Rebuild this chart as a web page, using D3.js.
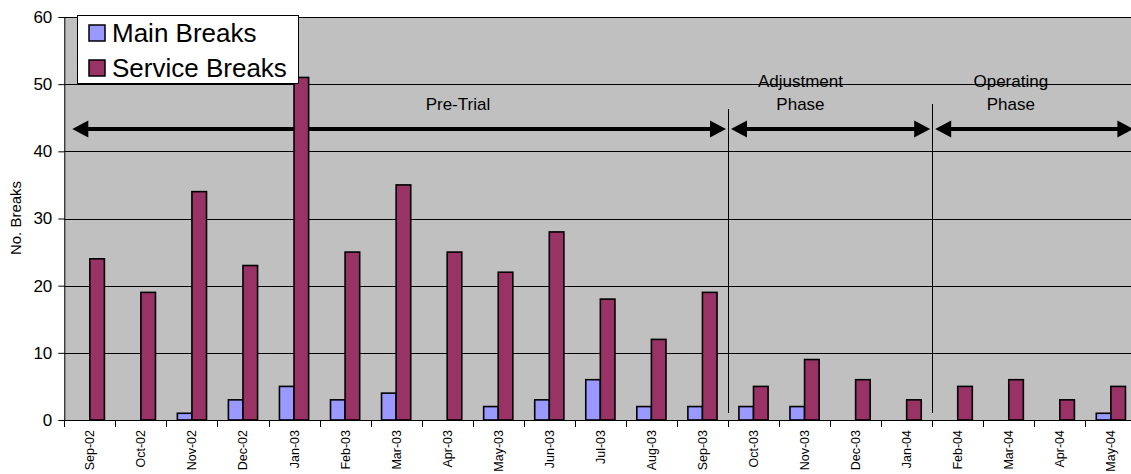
<!DOCTYPE html>
<html>
<head>
<meta charset="utf-8">
<script src="https://cdn.jsdelivr.net/npm/d3@7"></script>
<style>
  html, body { margin: 0; padding: 0; background: #ffffff; }
  svg { display: block; font-family: "Liberation Sans", Arial, sans-serif; }
</style>
</head>
<body>
<svg id="chart" width="1131" height="474"></svg>
<script>
// Monthly break counts
const months = ["Sep-02","Oct-02","Nov-02","Dec-02","Jan-03","Feb-03","Mar-03","Apr-03","May-03","Jun-03","Jul-03","Aug-03","Sep-03",
                "Oct-03","Nov-03","Dec-03","Jan-04","Feb-04","Mar-04","Apr-04","May-04"];
const mainBreaks    = [0, 0, 1, 3, 5, 3, 4, 0, 2, 3, 6, 2, 2, 2, 2, 0, 0, 0, 0, 0, 1];
const serviceBreaks = [24, 19, 34, 23, 51, 25, 35, 25, 22, 28, 18, 12, 19, 5, 9, 6, 3, 5, 6, 3, 5];
const seriesNames = ["Main Breaks", "Service Breaks"];
const yTicks = [0, 10, 20, 30, 40, 50, 60];

// Trial phases: label lines and first month of each phase
const phaseLabels = [["Pre-Trial"], ["Adjustment", "Phase"], ["Operating", "Phase"]];
const phaseStart = ["Sep-02", "Oct-03", "Feb-04"];

const colors = { "Main Breaks": "#9999ff", "Service Breaks": "#993366" };

const svg = d3.select("#chart");
const margin = { left: 64.3, top: 17, bottom: 420 };
const plotRight = 1136.4;

const x = d3.scaleBand().domain(months).range([margin.left, plotRight]).padding(0);
const x1 = d3.scaleBand().domain(seriesNames).range([0, x.bandwidth()]).paddingInner(0).paddingOuter(0.75);
const y = d3.scaleLinear().domain([0, 60]).range([margin.bottom, margin.top]);

// plot background
svg.append("rect")
  .attr("x", margin.left).attr("y", margin.top)
  .attr("width", plotRight - margin.left).attr("height", margin.bottom - margin.top)
  .attr("fill", "#c0c0c0");

// gridlines
svg.append("g").selectAll("line").data(yTicks.filter(d => d > 0)).join("line")
  .attr("x1", margin.left).attr("x2", plotRight)
  .attr("y1", d => Math.round(y(d)) + 0.5).attr("y2", d => Math.round(y(d)) + 0.5)
  .attr("stroke", "#000").attr("stroke-width", 1);

// phase annotations
const phaseIdx = phaseStart.map(m => months.indexOf(m));
const phases = phaseLabels.map((lab, i) => ({
  label: lab,
  from: phaseIdx[i],
  to: i + 1 < phaseIdx.length ? phaseIdx[i + 1] : months.length
}));
const boundary = i => i >= months.length ? plotRight : x(months[i]);
const labelCenter = [7.71, 14.42, 18.54]; // label centres, in month units from the left edge

const ann = svg.append("g");
// dividing lines between phases
ann.selectAll("line.div").data(phases.slice(1)).join("line")
  .attr("class", "div")
  .attr("x1", d => Math.round(boundary(d.from)) + 0.5)
  .attr("x2", d => Math.round(boundary(d.from)) + 0.5)
  .attr("y1", (d, i) => i === 0 ? 109 : 104)
  .attr("y2", 413)
  .attr("stroke", "#000").attr("stroke-width", 1);

const arrowY = 129;
const headL = 16, headH = 8.5;
phases.forEach((p, i) => {
  const x0 = boundary(p.from) + (i === 0 ? 8 : 3);
  const xEnd = boundary(p.to) - (i === phases.length - 1 ? 3 : 2);
  ann.append("line")
    .attr("x1", x0 + headL - 2).attr("x2", xEnd - headL + 2)
    .attr("y1", arrowY).attr("y2", arrowY)
    .attr("stroke", "#000").attr("stroke-width", 4);
  ann.append("path")
    .attr("d", `M${x0},${arrowY} L${x0 + headL},${arrowY - headH} L${x0 + headL},${arrowY + headH} Z`)
    .attr("fill", "#000");
  ann.append("path")
    .attr("d", `M${xEnd},${arrowY} L${xEnd - headL},${arrowY - headH} L${xEnd - headL},${arrowY + headH} Z`)
    .attr("fill", "#000");
  const cx = margin.left + labelCenter[i] * x.step();
  const t = ann.append("text")
    .attr("text-anchor", "middle")
    .attr("font-size", 17)
    .attr("fill", "#000");
  p.label.forEach((s, j) => {
    const base = p.label.length === 1 ? 110 : 87 + j * 23;
    t.append("tspan").attr("x", cx).attr("y", base).text(s);
  });
});

// bars
const rows = months.map((m, i) => ({ month: m, values: [
  { key: "Main Breaks", value: mainBreaks[i] },
  { key: "Service Breaks", value: serviceBreaks[i] }
]}));
const groups = svg.append("g").selectAll("g").data(rows).join("g")
  .attr("transform", d => `translate(${x(d.month)},0)`);
groups.selectAll("rect").data(d => d.values.filter(v => v.value > 0)).join("rect")
  .attr("x", d => x1(d.key))
  .attr("width", x1.bandwidth())
  .attr("y", d => y(d.value))
  .attr("height", d => y(0) - y(d.value))
  .attr("fill", d => colors[d.key])
  .attr("stroke", "#000").attr("stroke-width", 1.6);

// y axis
const yAxis = svg.append("g")
  .attr("transform", `translate(${margin.left},0)`)
  .call(d3.axisLeft(y).tickValues(yTicks).tickSize(6).tickPadding(6).tickFormat(d3.format("d")));
yAxis.selectAll("text").attr("font-size", 17).attr("font-family", "Liberation Sans, Arial, sans-serif").attr("fill", "#000");
yAxis.selectAll("line, path").attr("stroke", "#000");
yAxis.select("path").attr("d", `M0.5,${margin.top}V${margin.bottom}`);

// x axis
const xAxis = svg.append("g")
  .attr("transform", `translate(0,${margin.bottom})`);
xAxis.append("line")
  .attr("x1", margin.left).attr("x2", plotRight)
  .attr("y1", 0.5).attr("y2", 0.5).attr("stroke", "#000");
xAxis.selectAll("line.tick").data(months).join("line")
  .attr("class", "tick")
  .attr("x1", d => Math.round(x(d)) + 0.5).attr("x2", d => Math.round(x(d)) + 0.5)
  .attr("y1", 0).attr("y2", 7).attr("stroke", "#000");
xAxis.selectAll("text").data(months).join("text")
  .attr("transform", d => `translate(${x(d) + x.bandwidth() / 2 + 4.5},10) rotate(-90)`)
  .attr("text-anchor", "end")
  .attr("font-size", 12.5)
  .attr("fill", "#000")
  .text(d => d);

// y axis title
svg.append("text")
  .attr("transform", "translate(21,218) rotate(-90)")
  .attr("text-anchor", "middle")
  .attr("font-size", 15)
  .attr("fill", "#000")
  .text("No. Breaks");

// legend
const legend = svg.append("g");
legend.append("rect")
  .attr("x", 77.5).attr("y", 15.5).attr("width", 221).attr("height", 68)
  .attr("fill", "#fff").attr("stroke", "#000").attr("stroke-width", 1);
seriesNames.forEach((name, i) => {
  legend.append("rect")
    .attr("x", 89).attr("y", 25 + i * 35).attr("width", 16).attr("height", 16)
    .attr("fill", colors[name]).attr("stroke", "#000").attr("stroke-width", 1.5);
  legend.append("text")
    .attr("x", 112).attr("y", 42 + i * 34.5)
    .attr("font-size", 26)
    .attr("fill", "#000")
    .text(name);
});
</script>
</body>
</html>
